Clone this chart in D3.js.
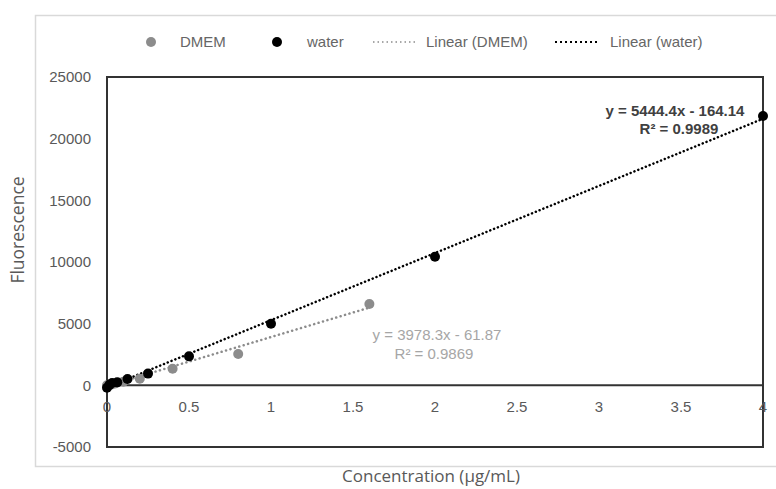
<!DOCTYPE html>
<html><head><meta charset="utf-8">
<script src="https://cdn.jsdelivr.net/npm/d3@7"></script>
<style>body{margin:0;background:#fff}svg{display:block}</style>
</head><body>
<svg id="c" width="776" height="489"></svg>
<script>
const xTicks = [0, 0.5, 1, 1.5, 2, 2.5, 3, 3.5, 4];
const yTicks = [-5000, 0, 5000, 10000, 15000, 20000, 25000];
const dmemX = [1.6, 0.8, 0.4, 0.2, 0.1, 0.05, 0.025, 0];
const dmemY = [6590, 2540, 1350, 540, 300, 150, 50, 0];
const waterX = [4, 2, 1, 0.5, 0.25, 0.125, 0.0625, 0.03125, 0.015625, 0];
const waterY = [21840, 10420, 5000, 2350, 950, 520, 240, 190, 60, -190];
const dmemFit = {slope: 3978.3, intercept: -61.87, r2: 0.9869, xmax: 1.6};
const waterFit = {slope: 5444.4, intercept: -164.14, r2: 0.9989, xmax: 4};
const legendItems = ["DMEM", "water", "Linear (DMEM)", "Linear (water)"];

const svg = d3.select("#c");
const font = "'Liberation Sans',Arial,sans-serif";
const x = d3.scaleLinear().domain([0, 4]).range([107, 763]);
const y = d3.scaleLinear().domain([-5000, 25000]).range([447, 77]);

svg.append("rect").attr("x", 35.5).attr("y", 15.5).attr("width", 800).attr("height", 451)
  .attr("fill", "#fff").attr("stroke", "#d9d9d9").attr("stroke-width", 1.5);

// plot box
svg.append("rect").attr("x", x(0)).attr("y", y(25000)).attr("width", x(4) - x(0)).attr("height", y(-5000) - y(25000))
  .attr("fill", "none").attr("stroke", "#333").attr("stroke-width", 2);
svg.append("line").attr("x1", x(0)).attr("x2", x(4)).attr("y1", y(0)).attr("y2", y(0))
  .attr("stroke", "#333").attr("stroke-width", 2);

// tick labels
svg.append("g").selectAll("text").data(yTicks).join("text")
  .attr("x", 91).attr("y", d => y(d)).attr("dy", "0.35em").attr("text-anchor", "end")
  .attr("font-family", font).attr("font-size", 15).attr("fill", "#595959").text(d => d);
svg.append("g").selectAll("text").data(xTicks).join("text")
  .attr("x", d => x(d)).attr("y", 407).attr("dy", "0.35em").attr("text-anchor", "middle")
  .attr("font-family", font).attr("font-size", 15).attr("fill", "#595959").text(d => d);

// axis titles
svg.append("text").attr("transform", "translate(24,230) rotate(-90)").attr("text-anchor", "middle")
  .attr("font-family", "'Open Sans',sans-serif").attr("font-size", 17.5).attr("fill", "#595959").text("Fluorescence");
svg.append("text").attr("x", 431).attr("y", 482).attr("text-anchor", "middle")
  .attr("font-family", "'Open Sans',sans-serif").attr("font-size", 17).attr("fill", "#595959").text("Concentration (\u03bcg/mL)");

// trend lines
const line = d3.line().x(d => x(d[0])).y(d => y(d[1]));
function fitPts(f) { return [[0, f.intercept], [f.xmax, f.slope * f.xmax + f.intercept]]; }
svg.append("path").attr("d", line(fitPts(dmemFit))).attr("fill", "none")
  .attr("stroke", "#8c8c8c").attr("stroke-width", 2.5).attr("stroke-dasharray", "0.1 4.5").attr("stroke-linecap", "round");
svg.append("path").attr("d", line(fitPts(waterFit))).attr("fill", "none")
  .attr("stroke", "#000").attr("stroke-width", 2.5).attr("stroke-dasharray", "0.1 4").attr("stroke-linecap", "round");

// points
svg.append("g").selectAll("circle").data(dmemX.map((d, i) => [d, dmemY[i]])).join("circle")
  .attr("cx", d => x(d[0])).attr("cy", d => y(d[1])).attr("r", 5).attr("fill", "#8c8c8c");
svg.append("g").selectAll("circle").data(waterX.map((d, i) => [d, waterY[i]])).join("circle")
  .attr("cx", d => x(d[0])).attr("cy", d => y(d[1])).attr("r", 5).attr("fill", "#000");

// equations
const eq = (f) => `y = ${f.slope}x - ${Math.abs(f.intercept)}`;
svg.append("text").attr("x", 675).attr("y", 116).attr("text-anchor", "middle").attr("font-family", font)
  .attr("font-size", 15).attr("font-weight", "bold").attr("fill", "#404040").text(eq(waterFit));
svg.append("text").attr("x", 679).attr("y", 134).attr("text-anchor", "middle").attr("font-family", font)
  .attr("font-size", 15).attr("font-weight", "bold").attr("fill", "#404040").text(`R\u00b2 = ${waterFit.r2}`);
svg.append("text").attr("x", 437).attr("y", 340).attr("text-anchor", "middle").attr("font-family", font)
  .attr("font-size", 15).attr("fill", "#a6a6a6").text(eq(dmemFit));
svg.append("text").attr("x", 434).attr("y", 359).attr("text-anchor", "middle").attr("font-family", font)
  .attr("font-size", 15).attr("fill", "#a6a6a6").text(`R\u00b2 = ${dmemFit.r2}`);

// legend
const lg = svg.append("g").attr("font-family", font).attr("font-size", 15).attr("fill", "#666");
lg.append("circle").attr("cx", 151).attr("cy", 42).attr("r", 5).attr("fill", "#8c8c8c");
lg.append("text").attr("x", 180).attr("y", 42).attr("dy", "0.35em").text(legendItems[0]);
lg.append("circle").attr("cx", 277).attr("cy", 42).attr("r", 5).attr("fill", "#000");
lg.append("text").attr("x", 307).attr("y", 42).attr("dy", "0.35em").text(legendItems[1]);
lg.append("line").attr("x1", 373).attr("x2", 415).attr("y1", 42).attr("y2", 42).attr("stroke", "#8c8c8c")
  .attr("stroke-width", 1.5).attr("stroke-dasharray", "1.5 3");
lg.append("text").attr("x", 426).attr("y", 42).attr("dy", "0.35em").text(legendItems[2]);
lg.append("line").attr("x1", 555).attr("x2", 600).attr("y1", 42).attr("y2", 42).attr("stroke", "#000")
  .attr("stroke-width", 2).attr("stroke-dasharray", "2 3");
lg.append("text").attr("x", 610).attr("y", 42).attr("dy", "0.35em").text(legendItems[3]);
</script>
</body></html>
